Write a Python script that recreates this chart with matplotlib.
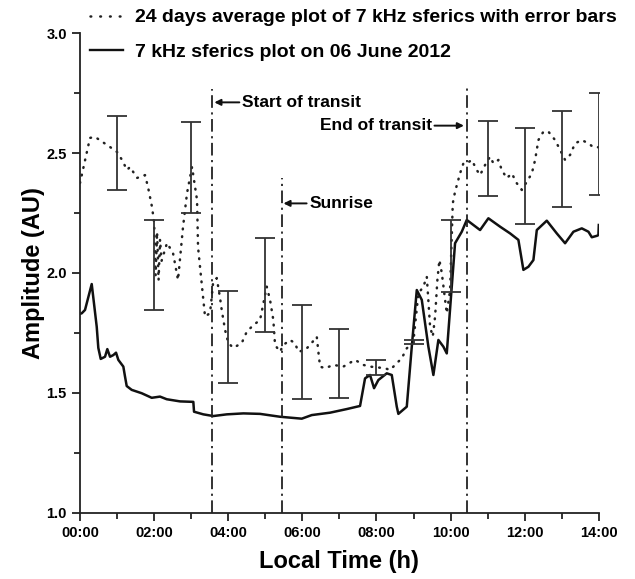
import matplotlib
matplotlib.use("Agg")
import matplotlib.pyplot as plt
from matplotlib.lines import Line2D
from matplotlib.ticker import MultipleLocator, FuncFormatter

plt.rcParams["font.family"] = ["Liberation Sans", "DejaVu Sans"]
plt.rcParams["font.weight"] = "bold"

# 06 June 2012 sferics (hours, amplitude)
day_t = [0.0, 0.046, 0.135, 0.316, 0.451, 0.494, 0.559, 0.675, 0.737, 0.810, 0.899,
         0.972, 1.034, 1.169, 1.215, 1.260, 1.395, 1.665, 1.935, 2.159, 2.340,
         2.699, 3.058, 3.077, 3.328, 3.598, 3.960, 4.408, 4.858, 5.398, 5.984,
         6.254, 6.748, 7.198, 7.557, 7.692, 7.827, 7.935, 8.051, 8.278, 8.413,
         8.548, 8.591, 8.818, 8.953, 9.088, 9.223, 9.401, 9.536, 9.671, 9.806,
         9.897, 10.005, 10.121, 10.302, 10.437, 10.796, 11.020, 11.336, 11.606,
         11.830, 11.965, 12.100, 12.235, 12.327, 12.596, 12.866, 13.090, 13.315,
         13.541, 13.720, 13.811, 13.950, 13.989, 14.0]
day_amp = [1.83, 1.832, 1.846, 1.954, 1.776, 1.688, 1.642, 1.651, 1.683, 1.651, 1.658,
           1.668, 1.638, 1.610, 1.568, 1.529, 1.513, 1.499, 1.480, 1.485, 1.474,
           1.465, 1.463, 1.422, 1.411, 1.404, 1.411, 1.415, 1.413, 1.401, 1.393,
           1.408, 1.418, 1.433, 1.446, 1.561, 1.575, 1.520, 1.554, 1.582, 1.575,
           1.443, 1.413, 1.443, 1.693, 1.929, 1.888, 1.693, 1.575, 1.721, 1.693,
           1.665, 1.888, 2.124, 2.172, 2.221, 2.179, 2.228, 2.193, 2.165,
           2.138, 2.013, 2.026, 2.054, 2.179, 2.218, 2.165, 2.124, 2.172,
           2.186, 2.172, 2.149, 2.155, 2.158, 2.20]

# 24-day average (hours, amplitude)
avg_t = [0.0, 0.27, 0.405, 0.81, 1.0, 1.134, 1.269, 1.35, 1.538, 1.754, 1.835, 1.943,
         2.0, 2.04, 2.08, 2.12, 2.16, 2.2, 2.348, 2.51, 2.645, 2.78, 2.888, 3.023,
         3.158, 3.185, 3.293, 3.374, 3.509, 3.555, 3.59, 3.69, 3.779, 3.824, 3.914,
         4.003, 4.138, 4.273, 4.364, 4.499, 4.678, 4.858, 5.039, 5.128, 5.217,
         5.263, 5.398, 5.487, 5.668, 5.803, 5.892, 6.073, 6.208, 6.389, 6.432,
         6.478, 6.613, 6.837, 7.107, 7.422, 7.646, 7.827, 8.008, 8.232, 8.367,
         8.548, 8.683, 8.818, 8.996, 9.131, 9.266, 9.358, 9.447, 9.519, 9.582,
         9.644, 9.698, 9.763, 9.897, 9.987, 10.059, 10.121, 10.256, 10.346,
         10.437, 10.572, 10.707, 10.796, 10.931, 11.066, 11.155, 11.29, 11.382,
         11.517, 11.652, 11.787, 11.922, 12.057, 12.192, 12.281, 12.37, 12.505,
         12.64, 12.82, 12.955, 13.09, 13.225, 13.36, 13.541, 13.72, 13.855, 13.989]
avg_amp = [2.375, 2.563, 2.567, 2.525, 2.504, 2.471, 2.429, 2.442, 2.396, 2.408, 2.358, 2.275,
           2.21, 1.99, 2.17, 1.97, 2.14, 2.05, 2.125, 2.083, 1.971, 2.192, 2.333, 2.442,
           2.304, 2.108, 1.942, 1.818, 1.833, 1.901, 1.958, 1.979, 1.896, 1.846, 1.763,
           1.708, 1.688, 1.700, 1.708, 1.755, 1.783, 1.804, 1.943, 1.888, 1.804,
           1.700, 1.672, 1.700, 1.721, 1.707, 1.672, 1.679, 1.700, 1.735, 1.672,
           1.610, 1.603, 1.617, 1.610, 1.638, 1.617, 1.610, 1.607, 1.603, 1.596,
           1.624, 1.645, 1.686, 1.714, 1.915, 1.943, 1.985, 1.776, 1.735, 1.818,
           1.971, 2.054, 2.000, 1.832, 1.929, 2.290, 2.339, 2.415, 2.457,
           2.457, 2.471, 2.429, 2.408, 2.450, 2.485, 2.457, 2.471, 2.429,
           2.395, 2.415, 2.374, 2.346, 2.380, 2.415, 2.471, 2.554, 2.589,
           2.589, 2.554, 2.513, 2.471, 2.492, 2.540, 2.554, 2.540, 2.524, 2.524]

# error bars of the 24-day average (low / high ends)
err_t = [1, 2, 3, 4, 5, 6, 7, 8, 9, 10, 11, 12, 13, 14]
err_lo = [2.346, 1.846, 2.250, 1.542, 1.756, 1.475, 1.480, 1.575, 1.704, 1.920, 2.321, 2.204, 2.275, 2.325]
err_hi = [2.654, 2.221, 2.629, 1.925, 2.146, 1.867, 1.765, 1.637, 1.721, 2.221, 2.633, 2.604, 2.675, 2.750]

# event markers: (time, top of line)
events = {"start": (3.575, 2.765), "sunrise": (5.44, 2.395), "end": (10.44, 2.77)}

DOTS = (0, (0.3, 2.8))

fig = plt.figure(figsize=(6.35, 5.79), dpi=100)
ax = fig.add_axes([0.126, 0.114, 0.817, 0.829])

ax.plot(avg_t, avg_amp, color="#222222", lw=1.8, ls=DOTS, dash_capstyle="round")
ax.plot(day_t, day_amp, color="#111111", lw=1.8)

mid = [(a + b) / 2 for a, b in zip(err_lo, err_hi)]
half = [(b - a) / 2 for a, b in zip(err_lo, err_hi)]
ax.errorbar(err_t, mid, yerr=half, fmt="none", ecolor="#333333",
            elinewidth=1.3, capsize=7.5, capthick=1.3)

for t, top in events.values():
    ax.plot([t, t], [1.0, top], color="#222222", lw=1.3, ls=(0, (7, 2.5, 1.2, 2.5)))

arr = dict(arrowstyle="-|>", color="#111111", lw=1.4, mutation_scale=9, shrinkA=0, shrinkB=0)
t0 = events["start"][0]
ax.annotate("Start of transit", xy=(t0 + 0.05, 2.711), xytext=(t0 + 0.8, 2.711),
            fontsize=12.5, fontweight="bold", va="center", ha="left", arrowprops=arr)
t1 = events["sunrise"][0]
ax.annotate("Sunrise", xy=(t1 + 0.05, 2.29), xytext=(t1 + 0.75, 2.29),
            fontsize=12.5, fontweight="bold", va="center", ha="left", arrowprops=arr)
t2 = events["end"][0]
ax.annotate("End of transit", xy=(t2 - 0.08, 2.614), xytext=(t2 - 0.95, 2.614),
            fontsize=12.5, fontweight="bold", va="center", ha="right", arrowprops=arr)

ax.set_xlim(0, 14)
ax.set_ylim(1.0, 3.0)
ax.xaxis.set_major_locator(MultipleLocator(2))
ax.xaxis.set_minor_locator(MultipleLocator(1))
ax.yaxis.set_major_locator(MultipleLocator(0.5))
ax.yaxis.set_minor_locator(MultipleLocator(0.25))
ax.xaxis.set_major_formatter(FuncFormatter(lambda v, p: f"{int(v):02d}:00"))
ax.yaxis.set_major_formatter(FuncFormatter(lambda v, p: f"{v:.1f}"))
for s in ["top", "right"]:
    ax.spines[s].set_visible(False)
for s in ["left", "bottom"]:
    ax.spines[s].set_linewidth(1.3)
    ax.spines[s].set_color("#222222")
ax.tick_params(which="major", length=6, width=1.3, labelsize=10.5, color="#222222")
ax.tick_params(which="minor", length=4, width=1.3, color="#222222")
for lab in ax.get_xticklabels() + ax.get_yticklabels():
    lab.set_fontweight("bold")

ax.set_xlabel("Local Time (h)", fontsize=17, fontweight="bold", labelpad=7)
ax.set_ylabel("Amplitude (AU)", fontsize=17, fontweight="bold", labelpad=1)

handles = [Line2D([], [], color="#222222", lw=1.8, ls=(0, (0.3, 3.6)), dash_capstyle="round"),
           Line2D([], [], color="#111111", lw=1.7)]
labels = ["24 days average plot of 7 kHz sferics with error bars",
          "7 kHz sferics plot on 06 June 2012"]
fig.legend(handles, labels, loc="upper left", bbox_to_anchor=(0.114, 1.015),
           frameon=False, prop=dict(size=14, weight="bold"),
           handlelength=1.7, handletextpad=0.6, labelspacing=0.86)

fig.savefig("out.png", dpi=100)
